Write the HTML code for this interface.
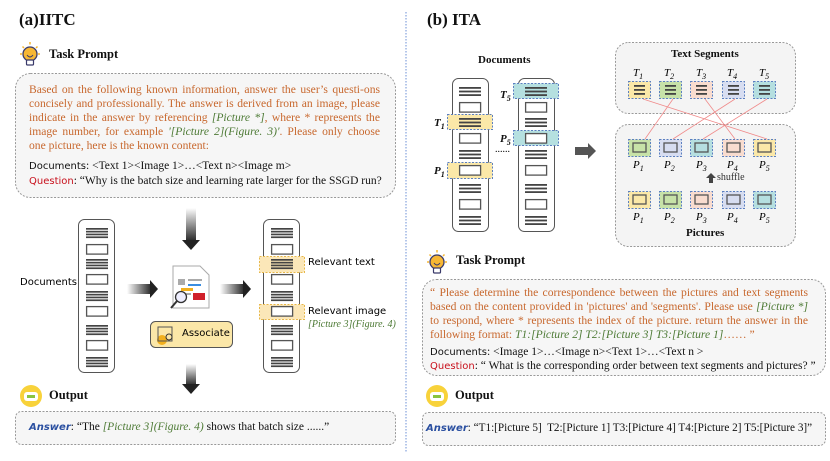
<!DOCTYPE html>
<html><head><meta charset="utf-8">
<style>
body{margin:0;width:830px;height:461px;background:#fff;position:relative;overflow:hidden;font-family:"Liberation Serif",serif;}
.a{position:absolute;white-space:nowrap;}
.h{font-weight:bold;color:#111;}
.L{position:absolute;font-size:11.6px;line-height:14px;height:14px;color:#c8682e;text-align:justify;text-align-last:justify;white-space:nowrap;overflow:visible;}
.L.e{text-align-last:left;}
.g{color:#4d7a35;font-style:italic;}
.c{font-family:"DejaVu Sans","Liberation Sans",sans-serif;font-size:10px;}
.blk{color:#111;}
.red{color:#c8101c;}
</style></head><body>
<svg width="830" height="461" style="position:absolute;left:0;top:0">
<defs>
<g id="l4"><rect x="0" y="0" width="22" height="1.7" fill="#444"/><rect x="0" y="2.8" width="22" height="1.7" fill="#444"/><rect x="0" y="5.6" width="22" height="1.7" fill="#444"/><rect x="0" y="8.4" width="22" height="1.7" fill="#444"/></g>
<g id="bx"><rect x="0.6" y="0.6" width="21" height="9.5" fill="#fff" stroke="#555" stroke-width="1.3"/></g>
<g id="l3"><rect x="0" y="0" width="22" height="1.8" fill="#444"/><rect x="0" y="3.6" width="22" height="1.8" fill="#444"/><rect x="0" y="7.2" width="22" height="1.8" fill="#444"/></g>
<linearGradient id="gv" x1="0" y1="0" x2="0" y2="1"><stop offset="0" stop-color="#fff"/><stop offset="1" stop-color="#222"/></linearGradient>
<linearGradient id="gh" x1="0" y1="0" x2="1" y2="0"><stop offset="0" stop-color="#fff"/><stop offset="1" stop-color="#222"/></linearGradient>
<g id="bulb"><circle cx="12" cy="13" r="7" fill="#f7b733" stroke="#3a3a6a" stroke-width="1.3"/><rect x="8.5" y="19" width="7" height="5" rx="1" fill="#fff" stroke="#3a3a6a" stroke-width="1.2"/><path d="M9 14 q3 4 6 0" stroke="#3a3a6a" fill="none"/><g stroke="#f7b733" stroke-width="1.5"><line x1="12" y1="1" x2="12" y2="3.5"/><line x1="2" y1="13" x2="4" y2="13"/><line x1="20" y1="13" x2="22" y2="13"/><line x1="4.5" y1="5.5" x2="6" y2="7"/><line x1="19.5" y1="5.5" x2="18" y2="7"/></g></g>
<g id="bot"><circle cx="11" cy="11" r="11" fill="#f8d23a"/><rect x="4" y="7" width="14" height="9" rx="3" fill="#fff"/><rect x="7" y="10" width="8" height="3" fill="#8ac43f"/></g>
</defs>
<line x1="406" y1="12" x2="406" y2="452" stroke="#6b8fd6" stroke-width="1" stroke-dasharray="1.5 1.5"/>
<use href="#bulb" x="18" y="41"/>
<rect x="15.5" y="73.5" width="380" height="124" rx="15" fill="#f6f6f6" stroke="#999" stroke-dasharray="2 1.5"/>
<rect x="186" y="208" width="10" height="34" fill="url(#gv)"/><path d="M182 240 L200 240 L191 250 Z" fill="#222"/>
<rect x="78.5" y="219.5" width="36" height="153" rx="6" fill="#fff" stroke="#555"/>
<use href="#l4" x="86" y="228"/><use href="#bx" x="86" y="244"/><use href="#l4" x="86" y="259"/><use href="#bx" x="86" y="274"/><use href="#l4" x="86" y="291"/><use href="#bx" x="86" y="306"/><use href="#l4" x="86" y="325"/><use href="#bx" x="86" y="340"/><use href="#l4" x="86" y="357"/>
<rect x="127" y="284" width="25" height="10" fill="url(#gh)"/><path d="M150 280 L158 289 L150 298 Z" fill="#222"/>
<rect x="220" y="284" width="25" height="10" fill="url(#gh)"/><path d="M243 280 L251 289 L243 298 Z" fill="#222"/>
<path d="M173 266 L200 266 L209 275 L209 308 L173 308 Z" fill="#fff" stroke="#aaa"/>
<rect x="178" y="279" width="7" height="6" fill="#aaa"/><rect x="188" y="279" width="14" height="2" fill="#aaa"/><rect x="188" y="284" width="13" height="2" fill="#3a8de0"/>
<rect x="181" y="288" width="12" height="3" fill="#f2b01e"/><rect x="193" y="293" width="12" height="7" fill="#d0202a"/><rect x="186" y="293" width="5" height="2" fill="#aaa"/>
<circle cx="181" cy="297" r="5.5" fill="#eef" stroke="#333" stroke-width="1.3"/><line x1="177" y1="301" x2="171" y2="308" stroke="#333" stroke-width="2"/>
<rect x="150.5" y="321.5" width="82" height="26" rx="5" fill="#fbe7a8" stroke="#555"/>
<circle cx="162" cy="340" r="5" fill="#f2b01e"/><rect x="158" y="327" width="14" height="14" fill="none" stroke="#555"/><circle cx="169" cy="337" r="3" fill="none" stroke="#333"/>
<rect x="263.5" y="219.5" width="36" height="153" rx="6" fill="#fff" stroke="#555"/>
<rect x="259.5" y="256.5" width="45" height="16" fill="#fbe7b8" stroke="#e8b84a" stroke-dasharray="2 1.5"/>
<rect x="259.5" y="304.5" width="45" height="15" fill="#fbe7b8" stroke="#e8b84a" stroke-dasharray="2 1.5"/>
<use href="#l4" x="271" y="228"/><use href="#bx" x="271" y="244"/><use href="#l4" x="271" y="259"/><use href="#bx" x="271" y="274"/><use href="#l4" x="271" y="291"/><use href="#bx" x="271" y="306"/><use href="#l4" x="271" y="325"/><use href="#bx" x="271" y="340"/><use href="#l4" x="271" y="357"/>
<rect x="186" y="364" width="10" height="22" fill="url(#gv)"/><path d="M182 384 L200 384 L191 394 Z" fill="#222"/>
<use href="#bot" x="20" y="385"/>
<rect x="15.5" y="411.5" width="380" height="33" rx="6" fill="#f6f6f6" stroke="#999" stroke-dasharray="2 1.5"/>
<rect x="452.5" y="78.5" width="36" height="153" rx="6" fill="#fff" stroke="#555"/>
<rect x="447.5" y="114.5" width="45" height="15" fill="#fbe8a8" stroke="#5b7fc0" stroke-dasharray="2 1.5"/>
<rect x="447.5" y="162.5" width="45" height="16" fill="#fbe8a8" stroke="#5b7fc0" stroke-dasharray="2 1.5"/>
<use href="#l3" x="459" y="87"/><use href="#bx" x="459" y="102"/><use href="#l3" x="459" y="118"/><use href="#bx" x="459" y="133"/><use href="#l3" x="459" y="150"/><use href="#bx" x="459" y="165"/><use href="#l3" x="459" y="184"/><use href="#bx" x="459" y="199"/><use href="#l3" x="459" y="216"/>
<rect x="518.5" y="78.5" width="36" height="153" rx="6" fill="#fff" stroke="#555"/>
<rect x="513.5" y="83.5" width="45" height="15" fill="#b5e0e0" stroke="#5b7fc0" stroke-dasharray="2 1.5"/>
<rect x="513.5" y="130.5" width="45" height="15" fill="#b5e0e0" stroke="#5b7fc0" stroke-dasharray="2 1.5"/>
<use href="#l3" x="525" y="87"/><use href="#bx" x="525" y="102"/><use href="#l3" x="525" y="118"/><use href="#bx" x="525" y="133"/><use href="#l3" x="525" y="150"/><use href="#bx" x="525" y="165"/><use href="#l3" x="525" y="184"/><use href="#bx" x="525" y="199"/><use href="#l3" x="525" y="216"/>
<path d="M575 147 L588 147 L588 143 L596 151 L588 159 L588 155 L575 155 Z" fill="#555"/>
<rect x="615.5" y="42.5" width="180" height="71" rx="13" fill="#f4f4f4" stroke="#999" stroke-dasharray="2 1.5"/>
<rect x="615.5" y="124.5" width="180" height="122" rx="13" fill="#f4f4f4" stroke="#999" stroke-dasharray="2 1.5"/>
<g stroke="#5b7fc0" stroke-dasharray="2 1.5">
<rect x="628.5" y="81.5" width="22" height="17" fill="#fbe8a8"/><rect x="659.5" y="81.5" width="22" height="17" fill="#c7e2a8"/><rect x="690.5" y="81.5" width="22" height="17" fill="#f9dccf"/><rect x="722.5" y="81.5" width="22" height="17" fill="#d7ddf1"/><rect x="753.5" y="81.5" width="22" height="17" fill="#b5dfe0"/>
<rect x="628.5" y="139.5" width="22" height="17" fill="#c7e2a8"/><rect x="659.5" y="139.5" width="22" height="17" fill="#d7ddf1"/><rect x="690.5" y="139.5" width="22" height="17" fill="#b5dfe0"/><rect x="722.5" y="139.5" width="22" height="17" fill="#f9dccf"/><rect x="753.5" y="139.5" width="22" height="17" fill="#fbe8a8"/>
<rect x="628.5" y="191.5" width="22" height="17" fill="#fbe8a8"/><rect x="659.5" y="191.5" width="22" height="17" fill="#c7e2a8"/><rect x="690.5" y="191.5" width="22" height="17" fill="#f9dccf"/><rect x="722.5" y="191.5" width="22" height="17" fill="#d7ddf1"/><rect x="753.5" y="191.5" width="22" height="17" fill="#b5dfe0"/>
</g>
<g fill="#444"><rect x="634" y="85" width="11" height="1.8"/><rect x="634" y="89" width="11" height="1.8"/><rect x="634" y="93" width="11" height="1.8"/>
<rect x="665" y="85" width="11" height="1.8"/><rect x="665" y="89" width="11" height="1.8"/><rect x="665" y="93" width="11" height="1.8"/>
<rect x="696" y="85" width="11" height="1.8"/><rect x="696" y="89" width="11" height="1.8"/><rect x="696" y="93" width="11" height="1.8"/>
<rect x="728" y="85" width="11" height="1.8"/><rect x="728" y="89" width="11" height="1.8"/><rect x="728" y="93" width="11" height="1.8"/>
<rect x="759" y="85" width="11" height="1.8"/><rect x="759" y="89" width="11" height="1.8"/><rect x="759" y="93" width="11" height="1.8"/></g>
<g fill="none" stroke="#555" stroke-width="1.3">
<rect x="633" y="143" width="13" height="9"/><rect x="664" y="143" width="13" height="9"/><rect x="695" y="143" width="13" height="9"/><rect x="727" y="143" width="13" height="9"/><rect x="758" y="143" width="13" height="9"/>
<rect x="633" y="195" width="13" height="9"/><rect x="664" y="195" width="13" height="9"/><rect x="695" y="195" width="13" height="9"/><rect x="727" y="195" width="13" height="9"/><rect x="758" y="195" width="13" height="9"/>
</g>
<g stroke="#f08a8a" stroke-width="0.8">
<line x1="643" y1="99" x2="767" y2="139"/><line x1="673" y1="99" x2="645" y2="139"/><line x1="705" y1="99" x2="735" y2="139"/><line x1="735" y1="99" x2="673" y2="139"/><line x1="767" y1="99" x2="703" y2="139"/>
</g>
<path d="M706 178 L711 173 L716 178 L713 178 L713 183 L709 183 L709 178 Z" fill="#444"/>
<use href="#bulb" x="425" y="249"/>
<rect x="422.5" y="279.5" width="403" height="96" rx="14" fill="#f6f6f6" stroke="#999" stroke-dasharray="2 1.5"/>
<use href="#bot" x="426" y="385"/>
<rect x="422.5" y="412.5" width="403" height="33" rx="6" fill="#f6f6f6" stroke="#999" stroke-dasharray="2 1.5"/>
</svg>

<div class="a h" style="left:19px;top:10px;font-size:17px">(a)IITC</div>
<div class="a h" style="left:49px;top:47px;font-size:12.5px">Task Prompt</div>
<div class="L" style="left:29px;top:83px;width:351px">Based on the following known information, answer the user’s questi-ons</div>
<div class="L" style="left:29px;top:97px;width:351px">concisely and professionally. The answer is derived from an image, please</div>
<div class="L" style="left:29px;top:111px;width:351px">indicate in the answer by referencing <span class="g">[Picture *]</span>, where * represents the</div>
<div class="L" style="left:29px;top:125px;width:351px">image number, for example <span class="g">'[Picture 2](Figure. 3)'</span>. Please only choose</div>
<div class="L e" style="left:29px;top:139px;width:351px">one picture, here is the known content:</div>
<div class="a blk" style="left:29px;top:160px;font-size:11.5px"><span class="c">Documents</span>: &lt;Text 1&gt;&lt;Image 1&gt;…&lt;Text n&gt;&lt;Image m&gt;</div>
<div class="a blk" style="left:29px;top:175px;font-size:11.5px"><span class="c red">Question</span>: “Why is the batch size and learning rate larger for the SSGD run?</div>
<div class="a c" style="left:20px;top:277px">Documents</div>
<div class="a c" style="left:182px;top:328px">Associate</div>
<div class="a c" style="left:308px;top:257px">Relevant text</div>
<div class="a c" style="left:308px;top:306px">Relevant image</div>
<div class="a g" style="left:308px;top:319px;font-size:10px">[Picture 3](Figure. 4)</div>
<div class="a h" style="left:49px;top:388px;font-size:12.5px">Output</div>
<div class="a blk" style="left:29px;top:421px;font-size:11.5px"><span class="c" style="color:#2a4fa0;font-style:italic;font-weight:bold">Answer</span>: “The <span class="g">[Picture 3](Figure. 4)</span> shows that batch size ......”</div>

<div class="a h" style="left:427px;top:10px;font-size:17px">(b) ITA</div>
<div class="a h" style="left:478px;top:54px;font-size:11px">Documents</div>
<div class="a h" style="left:434px;top:117px;font-size:11px;font-style:italic">T<sub style="font-size:8px">1</sub></div>
<div class="a h" style="left:434px;top:165px;font-size:11px;font-style:italic">P<sub style="font-size:8px">1</sub></div>
<div class="a h" style="left:500px;top:89px;font-size:11px;font-style:italic">T<sub style="font-size:8px">5</sub></div>
<div class="a h" style="left:500px;top:133px;font-size:11px;font-style:italic">P<sub style="font-size:8px">5</sub></div>
<div class="a" style="left:495px;top:144px;font-size:10px">......</div>
<div class="a h" style="left:671px;top:48px;font-size:11px">Text Segments</div>
<div class="a" style="left:633px;top:67px;font-size:11px;font-style:italic">T<sub style="font-size:8px">1</sub></div>
<div class="a" style="left:664px;top:67px;font-size:11px;font-style:italic">T<sub style="font-size:8px">2</sub></div>
<div class="a" style="left:696px;top:67px;font-size:11px;font-style:italic">T<sub style="font-size:8px">3</sub></div>
<div class="a" style="left:727px;top:67px;font-size:11px;font-style:italic">T<sub style="font-size:8px">4</sub></div>
<div class="a" style="left:759px;top:67px;font-size:11px;font-style:italic">T<sub style="font-size:8px">5</sub></div>
<div class="a" style="left:633px;top:159px;font-size:11px;font-style:italic">P<sub style="font-size:8px">1</sub></div>
<div class="a" style="left:664px;top:159px;font-size:11px;font-style:italic">P<sub style="font-size:8px">2</sub></div>
<div class="a" style="left:696px;top:159px;font-size:11px;font-style:italic">P<sub style="font-size:8px">3</sub></div>
<div class="a" style="left:727px;top:159px;font-size:11px;font-style:italic">P<sub style="font-size:8px">4</sub></div>
<div class="a" style="left:759px;top:159px;font-size:11px;font-style:italic">P<sub style="font-size:8px">5</sub></div>
<div class="a" style="left:717px;top:172px;font-size:10px;color:#333">shuffle</div>
<div class="a" style="left:633px;top:211px;font-size:11px;font-style:italic">P<sub style="font-size:8px">1</sub></div>
<div class="a" style="left:664px;top:211px;font-size:11px;font-style:italic">P<sub style="font-size:8px">2</sub></div>
<div class="a" style="left:696px;top:211px;font-size:11px;font-style:italic">P<sub style="font-size:8px">3</sub></div>
<div class="a" style="left:727px;top:211px;font-size:11px;font-style:italic">P<sub style="font-size:8px">4</sub></div>
<div class="a" style="left:759px;top:211px;font-size:11px;font-style:italic">P<sub style="font-size:8px">5</sub></div>
<div class="a h" style="left:686px;top:227px;font-size:11px">Pictures</div>
<div class="a h" style="left:456px;top:253px;font-size:12.5px">Task Prompt</div>
<div class="L" style="left:430px;top:286px;width:378px">“ Please determine the correspondence between the pictures and text segments</div>
<div class="L" style="left:430px;top:300px;width:378px">based on the content provided in 'pictures' and 'segments'. Please use <span class="g">[Picture *]</span></div>
<div class="L" style="left:430px;top:314px;width:378px">to respond, where * represents the index of the picture. return the answer in the</div>
<div class="L e" style="left:430px;top:328px;width:378px">following format: <span class="g">T1:[Picture 2] T2:[Picture 3] T3:[Picture 1]</span>…… ”</div>
<div class="a blk" style="left:430px;top:346px;font-size:11.5px"><span class="c">Documents</span>: &lt;Image 1&gt;…&lt;Image n&gt;&lt;Text 1&gt;…&lt;Text n &gt;</div>
<div class="a blk" style="left:430px;top:360px;font-size:11.5px"><span class="c red">Question</span>: “ What is the corresponding order between text segments and pictures? ”</div>
<div class="a h" style="left:455px;top:388px;font-size:12.5px">Output</div>
<div class="a blk" style="left:426px;top:422px;font-size:11.2px"><span class="c" style="color:#2a4fa0;font-style:italic;font-weight:bold">Answer</span>: “T1:[Picture 5]&nbsp; T2:[Picture 1] T3:[Picture 4] T4:[Picture 2] T5:[Picture 3]”</div>
</body></html>
